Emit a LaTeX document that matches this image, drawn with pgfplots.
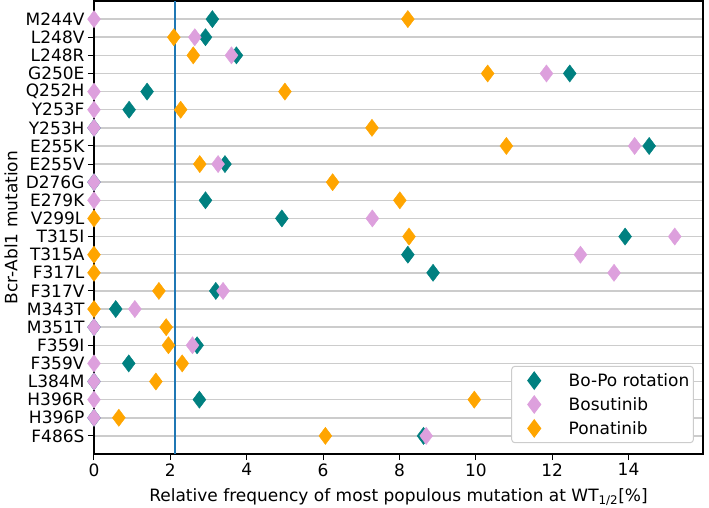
\documentclass[border=0pt]{standalone}
\usepackage{fontspec}
\setmainfont{DejaVu Sans}
\usepackage{pgfplots}
\usepackage{pgfplotstable}
\pgfplotsset{compat=1.18}
\definecolor{bopo}{RGB}{0,128,128}
\definecolor{bos}{RGB}{221,160,221}
\definecolor{pon}{RGB}{255,165,0}
\definecolor{mplblue}{RGB}{31,119,180}
\pgfplotstableread{
pos name bopo bos pon
0 F486S 8.63 8.70 6.06
1 H396P 0 0 0.65
2 H396R 2.76 0 9.96
3 L384M 0 0 1.62
4 F359V 0.91 0 2.31
5 F359I 2.70 2.58 1.95
6 M351T 0 0 1.89
7 M343T 0.57 1.07 0
8 F317V 3.19 3.38 1.70
9 F317L 8.88 13.62 0
10 T315A 8.22 12.74 0
11 T315I 13.91 15.21 8.25
12 V299L 4.92 7.29 0
13 E279K 2.92 0 8.01
14 D276G 0 0 6.25
15 E255V 3.43 3.25 2.77
16 E255K 14.54 14.16 10.80
17 Y253H 0 0 7.28
18 Y253F 0.92 0 2.27
19 Q252H 1.39 0 5.00
20 G250E 12.46 11.85 10.31
21 L248R 3.73 3.60 2.60
22 L248V 2.92 2.64 2.09
23 M244V 3.10 0 8.22
}\datatab
\begin{document}
\begin{tikzpicture}[font=\fontsize{17}{20}\selectfont]
\useasboundingbox (-94pt,-53pt) rectangle (615pt,454pt);
\begin{axis}[
  at={(0,0)}, anchor=south west,
  scale only axis, width=609pt, height=453pt,
  xmin=0, xmax=15.95, ymin=-1, ymax=24,
  xtick={0,2,...,14},
  ytick={0,...,23},
  yticklabels={F486S,H396P,H396R,L384M,F359V,F359I,M351T,M343T,F317V,F317L,T315A,T315I,V299L,E279K,D276G,E255V,E255K,Y253H,Y253F,Q252H,G250E,L248R,L248V,M244V},
  xtick pos=bottom, ytick pos=left,
  tick align=outside, major tick length=6pt,
  tick style={black, line width=1pt},
  axis line style={black, line width=1.3pt},
  ymajorgrids, major grid style={black!20, line width=1.5pt},
  /pgf/number format/assume math mode=true,
  ticklabel style={font=\fontsize{17}{20}\selectfont},
  xlabel={Relative frequency of most populous mutation at WT\textsubscript{1/2}[\%]},
  ylabel={Bcr-Abl1 mutation},
  xlabel style={at={(axis description cs:0.5,-0.1046)}, anchor=base},
  ylabel style={at={(axis description cs:-0.1363,0.5)}, anchor=center},
  legend style={at={(axis description cs:0.985,0.024)}, anchor=south east,
    draw=black!20, line width=1pt, rounded corners=3pt, fill=white,
    font=\fontsize{17}{20}\selectfont, row sep=5.5pt, inner xsep=2pt, inner ysep=5pt},
  legend cell align=left,
  legend image code/.code={%
    \path (0pt,0pt) (52pt,0pt);
    \draw[mark repeat=2, mark phase=2, #1] plot coordinates {(0pt,0pt) (20pt,0pt) (40pt,0pt)};},
  every axis plot/.append style={only marks, mark=diamond*, mark size=8.6pt,
    mark options={xscale=0.88, line width=0.4pt}},
]
\addplot[bopo, mark options={fill=bopo}] table[x=bopo, y=pos] {\datatab};
\addlegendentry{Bo-Po rotation}
\addplot[bos, mark options={fill=bos}] table[x=bos, y=pos] {\datatab};
\addlegendentry{Bosutinib}
\addplot[pon, mark options={fill=pon}] table[x=pon, y=pos] {\datatab};
\addlegendentry{Ponatinib}
\addplot[mplblue, line width=2.3pt, no marks, sharp plot, forget plot] coordinates {(2.12,-1) (2.12,24)};
\end{axis}
\end{tikzpicture}
\end{document}
